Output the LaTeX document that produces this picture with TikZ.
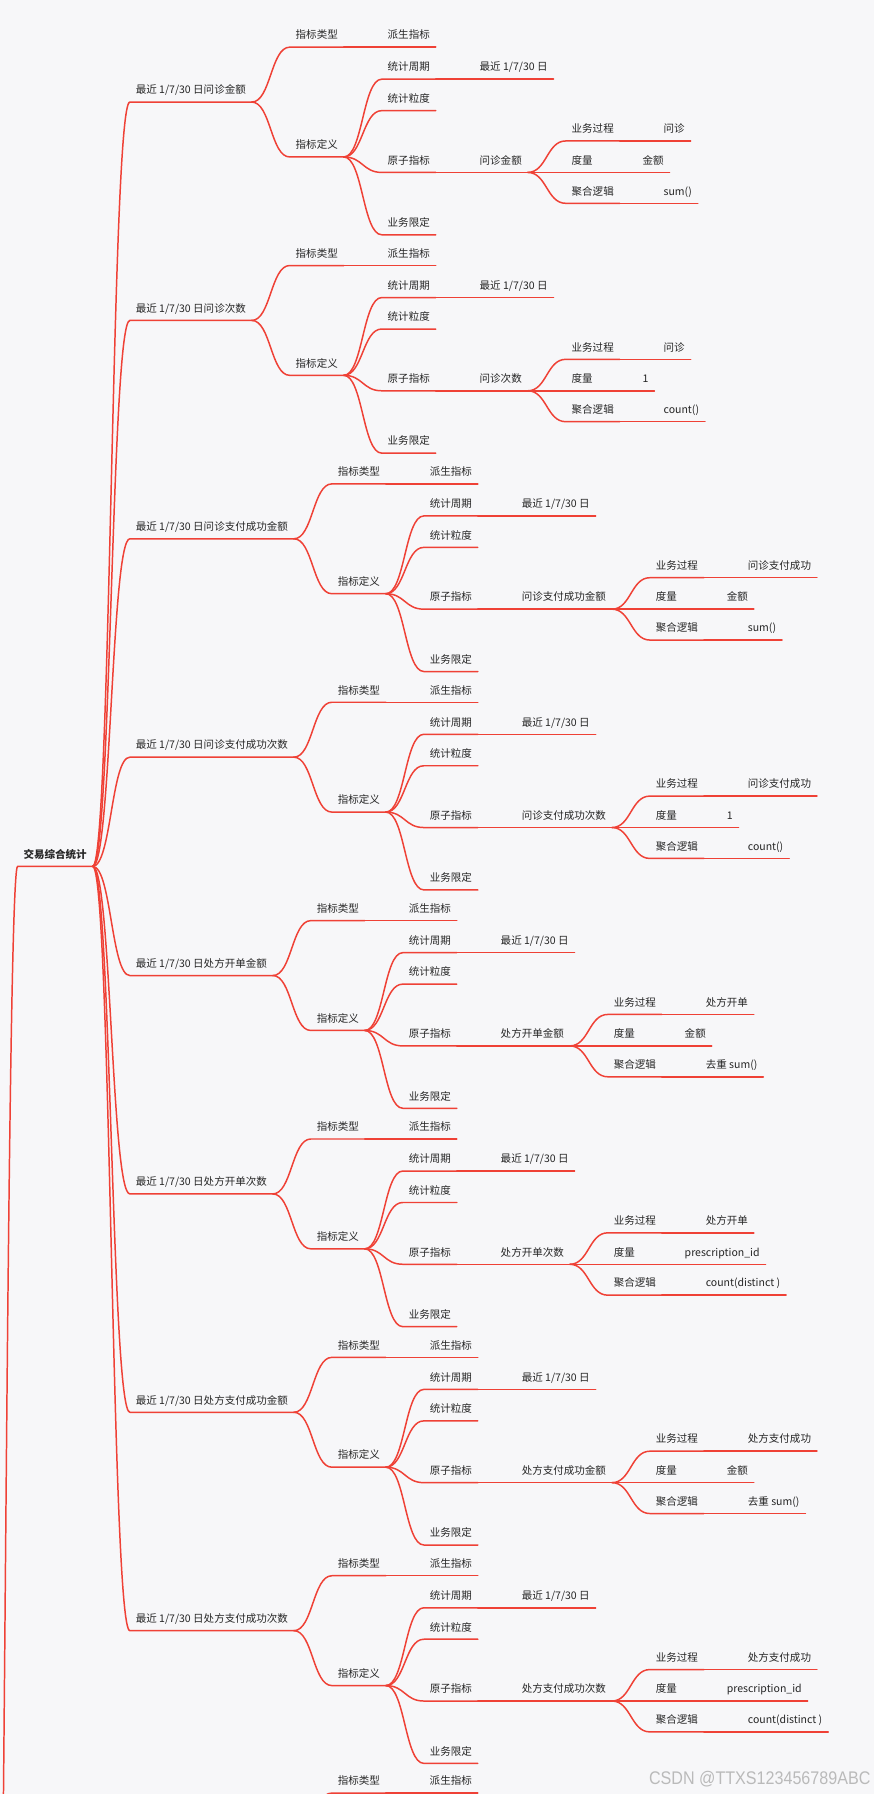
\documentclass[tikz,border=0pt]{standalone}
\usepackage{graphicx}
\usepackage{fontspec}
\newfontfamily\cjk{Noto Sans CJK SC}
\newfontfamily\wmfont{Liberation Sans}
\usetikzlibrary{positioning,calc}
\definecolor{bgc}{HTML}{F7F7F9}
\definecolor{lkc}{HTML}{EF4136}
\definecolor{txc}{HTML}{262626}
\tikzset{tp/.style={font=\cjk\fontsize{9.2}{11}\selectfont,text=txc,inner xsep=5pt,inner ysep=5pt,text height=8pt,text depth=2pt},
 rtp/.style={tp,font=\cjk\bfseries\fontsize{9.2}{11}\selectfont},
 lk/.style={draw=lkc,line width=1.3pt,line cap=round,line join=round},
 wm/.style={font=\wmfont\fontsize{16}{16}\selectfont,text=black!27,inner sep=0pt}}
% curve from the parent's end to the child's start, then the child's underline
\newcommand\lnk[2]{\draw[lk] let \p1=(#1.south east),\p2=(#2.south west) in (\p1) .. controls ({(\x1+\x2)/2},\y1) and ({(\x1+\x2)/2},\y2) .. (\p2) -- (#2.south east);}
\begin{document}
\begin{tikzpicture}[x=1pt,y=-1pt,node distance=33.2pt]
\fill[bgc] (0,0) rectangle (764,1568);\clip (0,0) rectangle (764,1568);
\node[rtp,anchor=west](root) at (15.4,747){交易综合统计};
\coordinate (rin) at (3,1572);
\draw[lk] (rin) .. controls (6,1250) and (9,757) .. (root.south west) -- (root.south east);
\foreach \i/\tp/\bp/\ms/\ag in {1/问诊金额/问诊/金额/sum(),2/问诊次数/问诊/1/count(),3/问诊支付成功金额/问诊支付成功/金额/sum(),4/问诊支付成功次数/问诊支付成功/1/count(),5/处方开单金额/处方开单/金额/去重 sum(),6/处方开单次数/处方开单/prescription\_id/count(distinct ),7/处方支付成功金额/处方支付成功/金额/去重 sum(),8/处方支付成功次数/处方支付成功/prescription\_id/count(distinct )}{
 \pgfmathsetmacro\yy{79+190.86*(\i-1)}
 \node[tp,anchor=west](m\i) at (113.5,\yy){最近 1/7/30 日\tp};
 \node[tp,right=of m\i,yshift=48pt](k\i){指标类型};\node[tp,right=of k\i](kv\i){派生指标};
 \node[tp,right=of m\i,yshift=-48pt](d\i){指标定义};
 \node[tp,right=of d\i,yshift=68pt](p\i){统计周期};\node[tp,right=of p\i](pv\i){最近 1/7/30 日};
 \node[tp,right=of d\i,yshift=40.5pt](g\i){统计粒度};
 \node[tp,right=of d\i,yshift=-13.5pt](a\i){原子指标};\node[tp,right=of a\i](av\i){\tp};
 \node[tp,right=of av\i,yshift=27.5pt](b\i){业务过程};\node[tp,right=of b\i](bv\i){\bp};
 \node[tp,right=of av\i](q\i){度量};\node[tp,right=of q\i](qv\i){\ms};
 \node[tp,right=of av\i,yshift=-27pt](c\i){聚合逻辑};\node[tp,right=of c\i](cv\i){\ag};
 \node[tp,right=of d\i,yshift=-68pt](r\i){业务限定};
 \lnk{root}{m\i}\lnk{m\i}{k\i}\lnk{k\i}{kv\i}\lnk{m\i}{d\i}\lnk{d\i}{p\i}\lnk{p\i}{pv\i}\lnk{d\i}{g\i}\lnk{d\i}{a\i}
 \lnk{a\i}{av\i}\lnk{av\i}{b\i}\lnk{b\i}{bv\i}\lnk{av\i}{q\i}\lnk{q\i}{qv\i}\lnk{av\i}{c\i}\lnk{c\i}{cv\i}\lnk{d\i}{r\i}
}
% next metric, cut off by the page edge
\coordinate (m9) at (256,1615);
\node[tp,anchor=west](k9) at (290,1557){指标类型};\node[tp,right=of k9](kv9){派生指标};
\draw[lk] (m9) .. controls (273,1615) and (273,1567) .. (k9.south west) -- (k9.south east);
\lnk{k9}{kv9}
\node[wm,anchor=east](mark) at (761,1555){\scalebox{0.88}[1]{CSDN @TTXS123456789ABC}};
\end{tikzpicture}
\end{document}
